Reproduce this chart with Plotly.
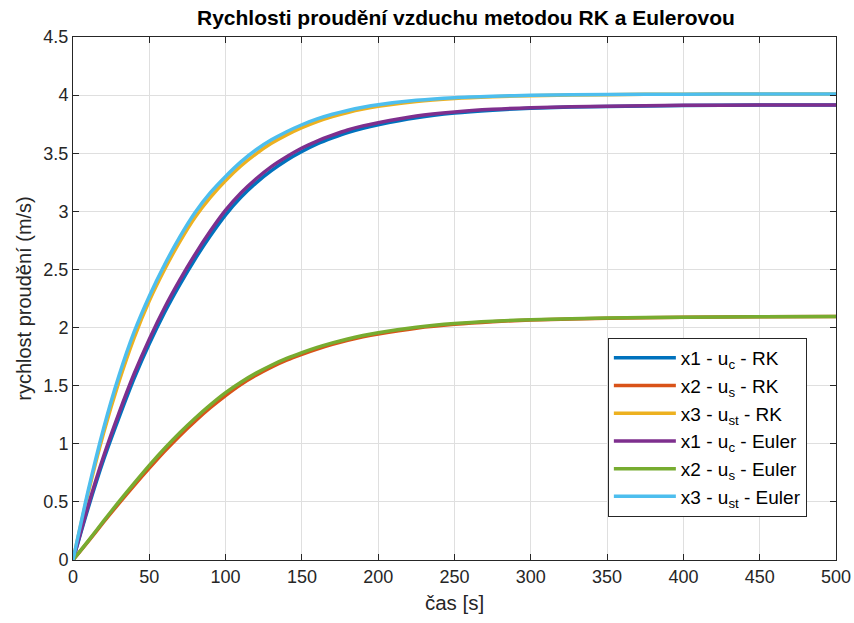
import plotly.graph_objects as go

t = [0, 10, 20, 30, 40, 50, 60, 70, 80, 90, 100, 110, 120, 130, 140, 150, 160, 170, 180, 190, 200,
     225, 250, 275, 300, 350, 400, 450, 500]

uc_rk = [0, .45, .86, 1.22, 1.56, 1.86, 2.13, 2.37, 2.59, 2.79, 2.97, 3.12, 3.245, 3.35, 3.44, 3.515,
         3.58, 3.632, 3.678, 3.715, 3.745, 3.805, 3.845, 3.87, 3.887, 3.903, 3.91, 3.914, 3.915]
us_rk = [0, .16, .325, .485, .64, .79, .935, 1.07, 1.195, 1.31, 1.415, 1.51, 1.59, 1.66, 1.72, 1.77,
         1.815, 1.855, 1.89, 1.92, 1.945, 1.995, 2.028, 2.05, 2.065, 2.08, 2.088, 2.092, 2.095]
ust_rk = [0, .58, 1.09, 1.53, 1.91, 2.23, 2.50, 2.74, 2.95, 3.12, 3.265, 3.39, 3.495, 3.585, 3.658, 3.72,
          3.773, 3.816, 3.851, 3.88, 3.903, 3.945, 3.97, 3.985, 3.995, 4.004, 4.008, 4.01, 4.01]
uc_eu = [0, .47, .89, 1.26, 1.60, 1.90, 2.17, 2.41, 2.63, 2.83, 3.01, 3.158, 3.28, 3.385, 3.47, 3.545,
         3.605, 3.655, 3.70, 3.735, 3.763, 3.82, 3.855, 3.878, 3.892, 3.905, 3.912, 3.915, 3.915]
us_eu = [0, .165, .335, .50, .66, .815, .96, 1.095, 1.22, 1.335, 1.44, 1.53, 1.608, 1.676, 1.734, 1.784,
         1.829, 1.868, 1.902, 1.931, 1.956, 2.003, 2.035, 2.055, 2.068, 2.082, 2.089, 2.093, 2.095]
ust_eu = [0, .60, 1.13, 1.58, 1.96, 2.27, 2.54, 2.78, 2.99, 3.16, 3.30, 3.425, 3.53, 3.615, 3.685, 3.745,
          3.795, 3.835, 3.868, 3.895, 3.917, 3.955, 3.978, 3.99, 3.998, 4.005, 4.008, 4.01, 4.01]

names = ["x1 - u<sub>c</sub> - RK", "x2 - u<sub>s</sub> - RK", "x3 - u<sub>st</sub> - RK",
         "x1 - u<sub>c</sub> - Euler", "x2 - u<sub>s</sub> - Euler", "x3 - u<sub>st</sub> - Euler"]
series = [uc_rk, us_rk, ust_rk, uc_eu, us_eu, ust_eu]
colors = ["#0072BD", "#D95319", "#EDB120", "#7E2F8E", "#77AC30", "#4DBEEE"]

xticks = [0, 50, 100, 150, 200, 250, 300, 350, 400, 450, 500]
yticks = [0, 0.5, 1, 1.5, 2, 2.5, 3, 3.5, 4, 4.5]
ytext = ["0", "0.5", "1", "1.5", "2", "2.5", "3", "3.5", "4", "4.5"]

fig = go.Figure()
for name, ys, c in zip(names, series, colors):
    fig.add_trace(go.Scatter(x=t, y=ys, mode="lines", name=name,
                             line=dict(color=c, width=3.5, shape="spline", smoothing=0.8)))

font_family = "Liberation Sans, Arial, Helvetica, sans-serif"
axis_col = "#262626"
grid_col = "#dfdfdf"

fig.update_layout(
    width=854, height=623,
    margin=dict(l=73, r=18, t=37, b=63, autoexpand=False),
    paper_bgcolor="white", plot_bgcolor="white",
    font=dict(family=font_family, color=axis_col, size=18),
    title=dict(text="<b>Rychlosti proudění vzduchu metodou RK a Eulerovou</b>",
               x=0.515, xref="paper", xanchor="center", y=0.972, yref="container", yanchor="middle",
               font=dict(size=21, color="black")),
    showlegend=True,
    legend=dict(x=0.701, y=0.4245, xanchor="left", yanchor="top",
                bordercolor="#262626", borderwidth=1, bgcolor="white",
                font=dict(size=19, color="black"), itemwidth=62,
                tracegroupgap=0),
)
fig.update_xaxes(range=[0, 500], tickvals=xticks, ticktext=[str(v) for v in xticks],
                 showgrid=True, gridcolor=grid_col, gridwidth=1, automargin=False,
                 showline=True, linecolor=axis_col, linewidth=1, mirror="ticks",
                 ticks="inside", ticklen=6, tickcolor=axis_col, zeroline=False,
                 title=dict(text="čas [s]", font=dict(size=20.5, color=axis_col), standoff=10),
                 tickfont=dict(size=18))
fig.update_yaxes(range=[0, 4.5], tickvals=yticks, ticktext=ytext,
                 showgrid=True, gridcolor=grid_col, gridwidth=1, automargin=False,
                 showline=True, linecolor=axis_col, linewidth=1, mirror="ticks",
                 ticks="inside", ticklen=6, tickcolor=axis_col, zeroline=False,
                 title=dict(text="rychlost proudění (m/s)", font=dict(size=20, color=axis_col), standoff=6),
                 tickfont=dict(size=18))

fig.write_html("out.html")
